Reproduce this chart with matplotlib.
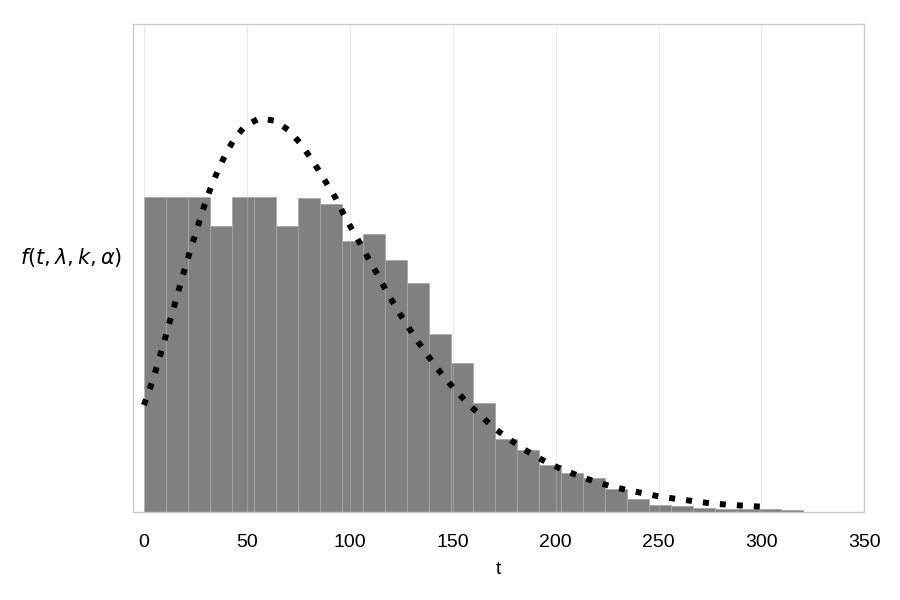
import matplotlib
matplotlib.use('Agg')
import matplotlib.pyplot as plt
import numpy as np

plt.rcParams['font.family'] = ['Liberation Sans', 'DejaVu Sans']
plt.rcParams['mathtext.fontset'] = 'dejavusans'

# histogram: 30 bins from 0 to 320, heights in relative units
bin_edges = np.linspace(0, 320, 31)
bar_heights = [315, 315, 315, 286, 315, 315, 286, 313.7, 308.3, 271.3,
               277.7, 252, 228.7, 178, 148.7, 109, 72.7, 62, 47.3, 38.7,
               34, 23.3, 13, 6.7, 6.3, 4, 2.7, 3, 3.3, 2]

# fitted density curve (same units)
curve_t = [0, 2.9, 5.3, 7.6, 9.9, 12.0, 14.2, 16.4, 18.6, 20.9, 23.2, 25.6,
           28.1, 30.5, 33.4, 36.5, 40.0, 43.9, 49.1, 56.2, 64.0, 70.5, 75.8,
           80.4, 84.9, 89.1, 93.3, 96.9, 100.6, 104.7, 108.6, 112.5, 116.3,
           120.4, 124.5, 128.8, 133.3, 137.9, 142.6, 147.8, 153.1, 158.6,
           164.5, 170.5, 177.0, 183.4, 190.4, 197.5, 204.8, 212.3, 220.1,
           227.7, 235.4, 243.6, 251.5, 259.3, 267.4, 275.3, 283.4, 291.4, 300]
curve_f = [107, 123.3, 138.7, 154.7, 170.7, 186.7, 202.3, 218.3, 234.7, 250.3,
           266.3, 282, 298.7, 313.7, 329.3, 344.3, 359.3, 373.3, 386.3, 394,
           391.3, 381.7, 369.3, 356, 342, 327.7, 313.7, 298.7, 284.5, 269.8,
           255.2, 241.2, 226.7, 212, 197.7, 184, 170, 156.7, 143.3, 130.3, 118,
           106, 94.7, 83.3, 73.7, 64.3, 55.7, 47.7, 41.3, 35.3, 29.7, 25.3,
           21.7, 18.3, 15, 13, 10.7, 8.7, 7.3, 6.3, 5.3]

fig = plt.figure(figsize=(9, 6), dpi=100)
ax = fig.add_axes([0.148, 0.1467, 0.8124, 0.8128])

widths = np.diff(bin_edges)
ax.bar(bin_edges[:-1], bar_heights, width=widths, align='edge',
       color='#808080', edgecolor='#a8a8a8', linewidth=0.6, zorder=2)

for xv in [0, 50, 100, 150, 200, 250, 300, 350]:
    ax.axvline(xv, color='#c8c8c8', alpha=0.35, linewidth=0.8, zorder=2.5)

ax.plot(curve_t, curve_f, color='black', linewidth=4.3,
        linestyle=(0, (1, 1.85)), dash_capstyle='butt', zorder=3)

ax.set_xlim(-5.2, 350)
ax.set_ylim(0, 488)
ax.set_xticks([0, 50, 100, 150, 200, 250, 300, 350])
ax.set_yticks([])
ax.tick_params(axis='x', length=0, pad=16, labelsize=14)

for s in ax.spines.values():
    s.set_color('#cccccc')
    s.set_linewidth(1)

ax.set_xlabel('t', fontsize=14, labelpad=7)
ax.set_ylabel(r'$f(t, \lambda, k, \alpha)$', fontsize=15, rotation=0,
              labelpad=0, va='center', ha='center')
ax.yaxis.set_label_coords(-0.0852, 0.5225)

fig.savefig('out.png', dpi=100)
